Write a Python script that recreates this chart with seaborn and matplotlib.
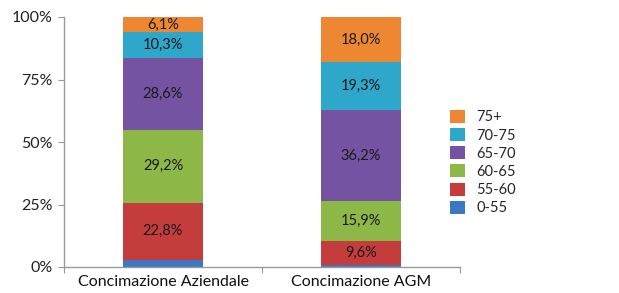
import matplotlib
matplotlib.use("Agg")
import matplotlib.pyplot as plt
import seaborn as sns
import numpy as np
import pandas as pd

categories = ["Concimazione Aziendale", "Concimazione AGM"]
series = ["0-55", "55-60", "60-65", "65-70", "70-75", "75+"]
v_0_55 = [3.0, 1.0]
v_55_60 = [22.8, 9.6]
v_60_65 = [29.2, 15.9]
v_65_70 = [28.6, 36.2]
v_70_75 = [10.3, 19.3]
v_75p = [6.1, 18.0]
labels_shown = {"0-55": False}
colors = ["#3B78C3", "#C43D3C", "#8DB747", "#7453A2", "#2EA7CB", "#EE8731"]

values = [v_0_55, v_55_60, v_60_65, v_65_70, v_70_75, v_75p]

sns.set_theme(style="white")
plt.rcParams["font.family"] = ["Lato", "DejaVu Sans"]

fig = plt.figure(figsize=(6.19, 2.93), dpi=100)
ax = fig.add_axes([64/619, 1-267/293, (460-64)/619, (267-17)/293])

arr = np.array(values)
cum = np.cumsum(arr, axis=0)
bottoms = cum - arr

# draw from top cumulative down so each lower segment overlays
for k in range(len(series) - 1, -1, -1):
    df = pd.DataFrame({"cat": categories, "val": cum[k]})
    sns.barplot(data=df, x="cat", y="val", color=colors[k], width=0.4,
                ax=ax, saturation=1, edgecolor="none", linewidth=0, errorbar=None)

for k, s in enumerate(series):
    if not labels_shown.get(s, True):
        continue
    for i, c in enumerate(categories):
        y = bottoms[k, i] + arr[k, i] / 2
        ax.text(i, y, f"{arr[k, i]:.1f}%".replace(".", ","), ha="center",
                va="center", fontsize=10.5, color="#1a1a1a")

ax.set_xlim(-0.5, 1.5)
ax.set_ylim(0, 100)
ax.set_yticks([0, 25, 50, 75, 100])
ax.set_yticklabels(["0%", "25%", "50%", "75%", "100%"], fontsize=11.5, color="#222222")
ax.set_xticks([0, 1])
ax.set_xticklabels(categories, fontsize=11.5, color="#111111")
ax.set_xticks([-0.5, 0.5, 1.5], minor=True)
ax.tick_params(axis="x", which="major", length=0, pad=6)
ax.tick_params(axis="x", which="minor", length=4, color="#999999", width=0.8, direction="out", bottom=True)
ax.tick_params(axis="y", length=4, color="#999999", width=0.8, direction="out", left=True, pad=4)
ax.set_xlabel("")
ax.set_ylabel("")
for side in ["top", "right"]:
    ax.spines[side].set_visible(False)
for side in ["left", "bottom"]:
    ax.spines[side].set_color("#9a9a9a")
    ax.spines[side].set_linewidth(1)

from matplotlib.patches import Patch
leg_handles = [Patch(facecolor=colors[k], edgecolor="none") for k in range(len(series) - 1, -1, -1)]
leg_labels = [series[k] for k in range(len(series) - 1, -1, -1)]
fig.legend(leg_handles, leg_labels, loc="upper left", bbox_to_anchor=(447/619, 1-107/293),
           frameon=False, fontsize=10.5, handlelength=1.0, handleheight=1.0,
           labelspacing=0.25, handletextpad=0.8, borderaxespad=0, borderpad=0.2)

fig.savefig("out.png", dpi=100)
